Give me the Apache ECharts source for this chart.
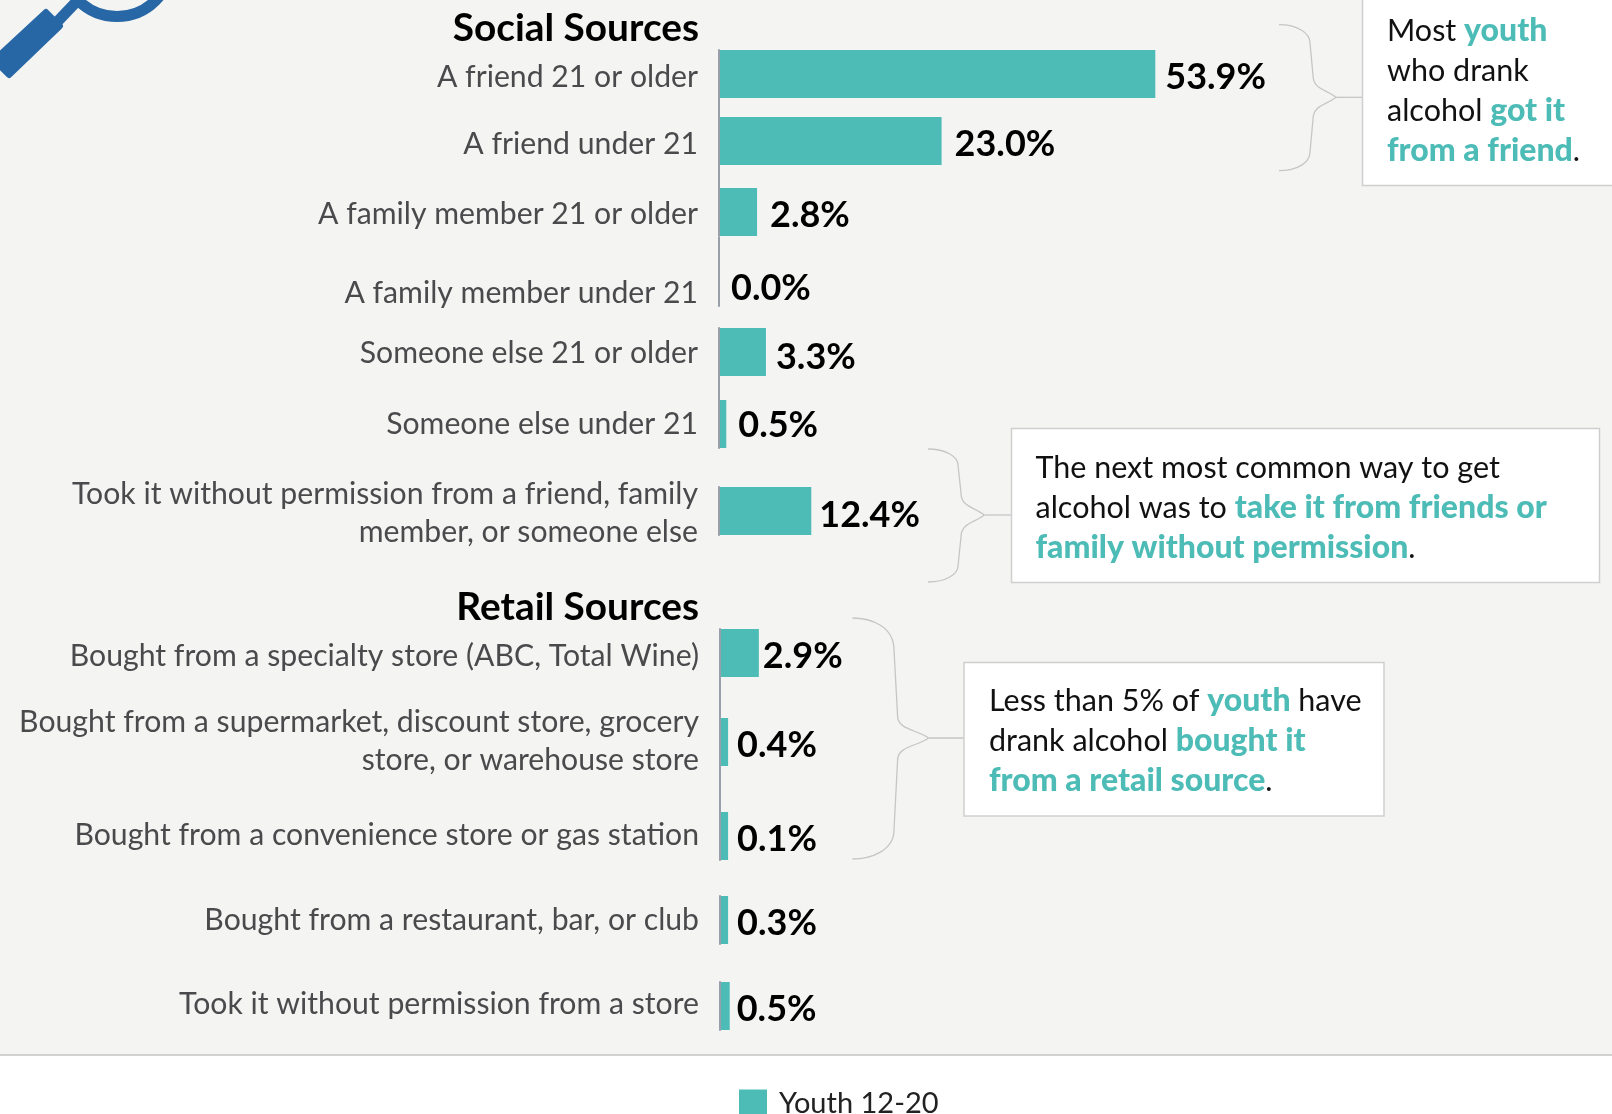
<!DOCTYPE html>
<html><head><meta charset="utf-8">
<style>html,body{margin:0;padding:0;background:#fff;overflow:hidden}#c{width:1612px;height:1114px}</style>
<script src="https://cdn.jsdelivr.net/npm/echarts@6/dist/echarts.min.js"></script>
</head><body><div id="c"></div>
<script>
// ---- data ----
const categories = [
  'A friend 21 or older','A friend under 21','A family member 21 or older','A family member under 21',
  'Someone else 21 or older','Someone else under 21','Took it without permission from a friend, family\nmember, or someone else',
  'Bought from a specialty store (ABC, Total Wine)','Bought from a supermarket, discount store, grocery\nstore, or warehouse store',
  'Bought from a convenience store or gas station','Bought from a restaurant, bar, or club','Took it without permission from a store'];
// printed values
const valueLabels = ['53.9%','23.0%','2.8%','0.0%','3.3%','0.5%','12.4%','2.9%','0.4%','0.1%','0.3%','0.5%'];
// bar lengths as actually drawn in the reference (not proportional to the printed values there)
const drawnLengths = [53.9,27.5,4.7,0,5.8,0.9,11.4,4.8,1.0,1.0,1.0,1.2];
const legendName = 'Youth 12-20';
const headings = ['Social Sources','Retail Sources'];

// ---- layout ----
const rowTop   = [50,117,188,258,328,400,487,629,718,812,896,982];
const axisLeft = [719,719,719,719,719,719,719,720,720,720,720,720];
const rowH = 48, axisWidth = 436.3, axisMax = 53.9;
const labelDx  = [10,13,13,12,10,12,8,4,9,9,9,7];
const labelDy  = [3,3.5,3.5,6,5.5,1.5,4,3,3,3,3,3.5];
const catDy    = [3,3,2.5,11,1.5,0.5,2,3,-1,-1,0.5,-2];
const spines   = [[719,98,117],[719,165,188],[719,237,258],[719,376,400],[720,677,718],[720,766,812]];
const FONT = 'Lato', TEAL = '#4dbcb6', GREY = '#4a4a4d';
const BASE = 30.2, NOTE = 30.5, LINE_H = 38;

const grids=[],xAxes=[],yAxes=[],series=[];
categories.forEach((c,i)=>{
  grids.push({left:axisLeft[i],top:rowTop[i],width:axisWidth,height:rowH,containLabel:false});
  xAxes.push({type:'value',gridIndex:i,min:0,max:axisMax,show:false});
  const lines=c.split('\n').length;
  yAxes.push({type:'category',gridIndex:i,data:[c],z:3,
    axisTick:{show:false},
    axisLine:{show:true,lineStyle:{color:'#989eaa',width:2}},
    axisLabel:{fontFamily:FONT,fontSize:BASE,color:GREY,lineHeight:LINE_H,align:'right',margin:21,
      verticalAlign:'top',padding:[catDy[i]-LINE_H*lines/2,0,0,0]}});
  series.push({type:'bar',name:legendName,xAxisIndex:i,yAxisIndex:i,data:[drawnLengths[i]],barWidth:rowH,
    itemStyle:{color:TEAL},silent:true,
    label:{show:true,position:'right',distance:0,offset:[labelDx[i],labelDy[i]],formatter:()=>valueLabels[i],
      fontFamily:FONT,fontWeight:'bold',fontSize:36,color:'#000'}});
});

const BRACE={fill:'none',stroke:'#c6c6c6',lineWidth:1.3};
const curve=(x1,y1,cpx1,cpy1,cpx2,cpy2,x2,y2)=>({type:'bezierCurve',z:4,silent:true,shape:{x1,y1,cpx1,cpy1,cpx2,cpy2,x2,y2},style:BRACE});
const seg=(x1,y1,x2,y2)=>({type:'line',z:4,silent:true,shape:{x1,y1,x2,y2},style:BRACE});
function brace(xs,xa,xb,xt,xe,y0,y1,yt,y2,y3){
  return [
    curve(xs,y0,xs+18,y0,xa,y0+8,xa,y1),
    seg(xa,y1,xb,yt-22),
    curve(xb,yt-22,xb,yt-8,xt-10,yt-8,xt,yt),
    seg(xt,yt,xe,yt),
    curve(xt,yt,xt-10,yt+8,xb,yt+8,xb,yt+22),
    seg(xb,yt+22,xa,y2),
    curve(xa,y2,xa,y3-8,xs+18,y3,xs,y3)
  ];
}
const line=(x1,y1,x2,y2,color,w,cap)=>({type:'line',shape:{x1,y1,x2,y2},style:{stroke:color,lineWidth:w,lineCap:cap||'butt'},silent:true});
const hl={fontFamily:FONT,fontWeight:900,fontSize:32,fill:TEAL,lineHeight:40};
const callout=(x,y,text)=>({type:'text',x,y,z:12,silent:true,style:{text,fontFamily:FONT,fontSize:NOTE,fill:'#111',lineHeight:40,rich:{t:hl},verticalAlign:'top'}});
const box=(x,y,w,h)=>({type:'rect',z:10,silent:true,shape:{x:x+.5,y:y+.5,width:w,height:h},style:{fill:'#fff',stroke:'#cfcfcf',lineWidth:1.5}});

const graphic=[
  {type:'rect',z:-10,silent:true,shape:{x:0,y:0,width:1612,height:1054},style:{fill:'#f4f4f2'}},
  {type:'rect',z:-9,silent:true,shape:{x:0,y:1054,width:1612,height:2},style:{fill:'#d2d2d2'}},
  // magnifying glass
  {type:'circle',z:1,silent:true,shape:{cx:117,cy:-38,r:54.5},style:{fill:'none',stroke:'#2767a6',lineWidth:11}},
  Object.assign(line(58,21,80,-2,'#2767a6',11),{z:1}),
  {type:'polygon',z:1,silent:true,shape:{points:[[46,12],[60,26],[9,75],[-6,60]]},style:{fill:'#2767a6',stroke:'#2767a6',lineWidth:6,lineJoin:'round'}},
  // headings
  {type:'text',z:5,silent:true,style:{text:headings[0],x:699,y:28,align:'right',verticalAlign:'middle',fontFamily:FONT,fontWeight:'bold',fontSize:38.8,fill:'#000'}},
  {type:'text',z:5,silent:true,style:{text:headings[1],x:699,y:607.5,align:'right',verticalAlign:'middle',fontFamily:FONT,fontWeight:'bold',fontSize:38.8,fill:'#000'}},
  // braces
  ...brace(1279,1310,1313,1336,1362,24.7,43,97.3,152,170.7),
  ...brace(928,958,961,984.4,1011,449,465,515,566,582),
  ...brace(852.4,894,897.6,928.5,963.6,618,650,738,830,859),
  // callouts
  box(1362,-5,260,190),
  callout(1387,11,'Most {t|youth}\nwho drank\nalcohol {t|got it}\n{t|from a friend}.'),
  box(1011,428,588,154),
  callout(1035.5,448,'The next most common way to get\nalcohol was to {t|take it from friends or}\n{t|family without permission}.'),
  box(963.5,662,420,153.5),
  callout(989,681,'Less than 5% of {t|youth} have\ndrank alcohol {t|bought it}\n{t|from a retail source}.')
];
spines.forEach(s=>{const l=line(s[0],s[1],s[0],s[2],'#989eaa',2);l.z=3;graphic.push(l);});

const chart=echarts.init(document.getElementById('c'),null,{renderer:'canvas'});
chart.setOption({
  animation:false,backgroundColor:'#fff',
  grid:grids,xAxis:xAxes,yAxis:yAxes,series,graphic,
  legend:{data:[legendName],left:739,top:1089,padding:0,itemWidth:28,itemHeight:28,selectedMode:false,
    icon:'rect',textStyle:{fontFamily:FONT,fontSize:29,color:'#222',padding:[0,0,0,7]}}
});
</script></body></html>
